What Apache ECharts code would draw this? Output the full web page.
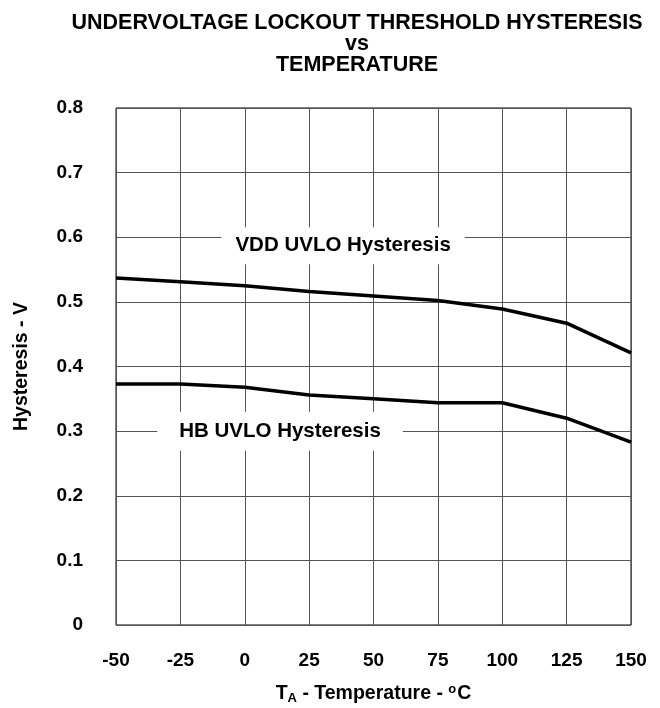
<!DOCTYPE html>
<html><head><meta charset="utf-8">
<script src="https://cdn.jsdelivr.net/npm/echarts@6/dist/echarts.min.js"></script>
<style>html,body{margin:0;padding:0;background:#fff}#c{width:660px;height:708px}</style>
</head><body><div id="c"></div>
<script>
const temps = [-50, -25, 0, 25, 50, 75, 100, 125, 150];
const vddHyst = [0.537, 0.531, 0.525, 0.516, 0.509, 0.502, 0.489, 0.467, 0.421];
const hbHyst = [0.373, 0.373, 0.368, 0.356, 0.350, 0.344, 0.344, 0.320, 0.283];
const xTicks = [-50, -25, 0, 25, 50, 75, 100, 125, 150];
const yTicks = [0, 0.1, 0.2, 0.3, 0.4, 0.5, 0.6, 0.7, 0.8];
const titleText = 'UNDERVOLTAGE LOCKOUT THRESHOLD HYSTERESIS\nvs\nTEMPERATURE';
const vddLabel = {text: 'VDD UVLO Hysteresis', x: 38.2, y: 0.587};
const hbLabel = {text: 'HB UVLO Hysteresis', x: 13.7, y: 0.300};

const font = '"Liberation Sans", Arial, sans-serif';
const chart = echarts.init(document.getElementById('c'), null, {renderer: 'canvas'});
function mk(lbl, pad) {
  return {
    symbol: 'circle', symbolSize: 0, silent: true,
    data: [{coord: [lbl.x, lbl.y], value: lbl.text}],
    label: {show: true, position: 'inside', formatter: lbl.text, color: '#000',
      fontFamily: font, fontWeight: 'bold', fontSize: 20.5, lineHeight: 21,
      backgroundColor: '#fff', padding: pad}
  };
}
const axisFont = {fontFamily: font, fontWeight: 'bold', fontSize: 19, color: '#000'};
chart.setOption({
  animation: false,
  title: {text: titleText, left: 352, top: 8, textAlign: 'center',
    textStyle: {fontFamily: font, fontWeight: 'bold', fontSize: 21.5, lineHeight: 21, color: '#000'}},
  grid: {left: 116, right: 29, top: 108, bottom: 83, show: true, borderColor: '#000', borderWidth: 1,
    containLabel: false, outerBoundsMode: 'none'},
  xAxis: {type: 'value', min: -50, max: 150, interval: 25,
    name: '{m|T}{sub|A}{m| - Temperature - }{sup|o}{m|C}', nameLocation: 'middle', nameGap: 58,
    nameTextStyle: {fontFamily: font, fontWeight: 'bold', fontSize: 19.5, color: '#000',
      rich: {
        m: {fontFamily: font, fontWeight: 'bold', fontSize: 19.5, lineHeight: 22, color: '#000'},
        sub: {fontFamily: font, fontWeight: 'bold', fontSize: 13, lineHeight: 14, padding: [9, 0, 0, 0], color: '#000'},
        sup: {fontFamily: font, fontWeight: 'bold', fontSize: 13, lineHeight: 14, padding: [0, 1, 9, 0], color: '#000'}
      }},
    axisLine: {show: false}, axisTick: {show: false},
    axisLabel: Object.assign({margin: 26, formatter: v => xTicks.includes(v) ? String(v) : ''}, axisFont),
    splitLine: {show: true, lineStyle: {color: '#555', width: 1}}},
  yAxis: {type: 'value', min: 0, max: 0.8, interval: 0.1,
    name: 'Hysteresis - V', nameLocation: 'middle', nameGap: 84,
    nameTextStyle: {fontFamily: font, fontWeight: 'bold', fontSize: 19.5, color: '#000'},
    axisLine: {show: false}, axisTick: {show: false},
    axisLabel: Object.assign({margin: 33,
      formatter: v => { const t = yTicks.find(k => Math.abs(k - v) < 1e-9); return t === undefined ? '' : (t === 0 ? '0' : t.toFixed(1)); }}, axisFont),
    splitLine: {show: true, lineStyle: {color: '#555', width: 1}}},
  series: [
    {type: 'line', data: temps.map((t, i) => [t, vddHyst[i]]), symbol: 'none',
      lineStyle: {color: '#000', width: 3.5}, markPoint: mk(vddLabel, [8, 14, 8, 14]), z: 3},
    {type: 'line', data: temps.map((t, i) => [t, hbHyst[i]]), symbol: 'none',
      lineStyle: {color: '#000', width: 3.5}, markPoint: mk(hbLabel, [9, 22, 9, 22]), z: 3}
  ]
});
</script></body></html>
